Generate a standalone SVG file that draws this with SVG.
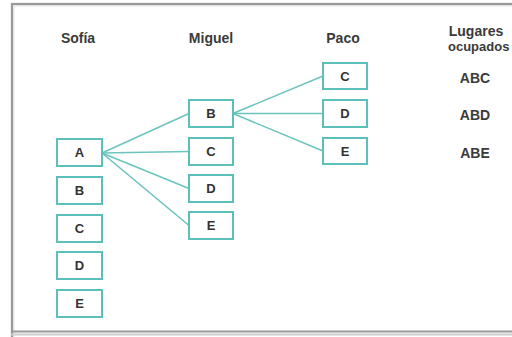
<svg xmlns="http://www.w3.org/2000/svg" width="512" height="337" viewBox="0 0 512 337">
<style>
.box{fill:#fff;stroke:#5dbfb9;stroke-width:2}
.lbl{font-family:"Liberation Sans",Arial,sans-serif;font-weight:bold;font-size:13px;fill:#333;text-anchor:middle}
.hdr{font-family:"Liberation Sans",Arial,sans-serif;font-weight:bold;font-size:14px;fill:#3a3a3a;text-anchor:middle}
.con line{stroke:#6cc4be;stroke-width:1.6}
</style>
<rect width="512" height="337" fill="#fff"/>
<g id="frame">
<path d="M12.5 340 V4.5 H520" fill="none" stroke="#e6e6e6" stroke-width="4"/>
<path d="M12 340 V4 H520" fill="none" stroke="#999" stroke-width="2"/>
<path d="M11 331.5 H520" fill="none" stroke="#999" stroke-width="2"/>
<path d="M11 334.5 H520" fill="none" stroke="#ccc" stroke-width="2"/>
</g>
<g id="headers">
<text class="hdr" x="78" y="43">Sofía</text>
<text class="hdr" x="211" y="43">Miguel</text>
<text class="hdr" x="343" y="43">Paco</text>
<text class="hdr" x="476" y="36">Lugares</text>
<text class="hdr" x="448" y="51" style="text-anchor:start;font-size:13px">ocupados</text>
</g>
<g id="connectors" class="con">
<line x1="102" y1="153" x2="189" y2="113.5"/>
<line x1="102" y1="153" x2="189" y2="151.5"/>
<line x1="102" y1="153" x2="189" y2="188.5"/>
<line x1="102" y1="153" x2="189" y2="225.5"/>
<line x1="233" y1="113.5" x2="323" y2="76"/>
<line x1="233" y1="113.5" x2="323" y2="113.5"/>
<line x1="233" y1="113.5" x2="323" y2="151"/>
</g>
<g id="sofia-A"><rect class="box" x="57" y="139" width="45" height="27"/><text class="lbl" x="79.5" y="157">A</text></g>
<g id="sofia-B"><rect class="box" x="57" y="177" width="45" height="27"/><text class="lbl" x="79.5" y="195">B</text></g>
<g id="sofia-C"><rect class="box" x="57" y="215" width="45" height="27"/><text class="lbl" x="79.5" y="233">C</text></g>
<g id="sofia-D"><rect class="box" x="57" y="252" width="45" height="27"/><text class="lbl" x="79.5" y="270">D</text></g>
<g id="sofia-E"><rect class="box" x="57" y="290" width="45" height="27"/><text class="lbl" x="79.5" y="308">E</text></g>
<g id="miguel-B"><rect class="box" x="189" y="100" width="44" height="27"/><text class="lbl" x="211" y="118">B</text></g>
<g id="miguel-C"><rect class="box" x="189" y="138" width="44" height="27"/><text class="lbl" x="211" y="156">C</text></g>
<g id="miguel-D"><rect class="box" x="189" y="175" width="44" height="27"/><text class="lbl" x="211" y="193">D</text></g>
<g id="miguel-E"><rect class="box" x="189" y="212" width="44" height="27"/><text class="lbl" x="211" y="230">E</text></g>
<g id="paco-C"><rect class="box" x="323" y="63" width="44" height="26"/><text class="lbl" x="345" y="80.5">C</text></g>
<g id="paco-D"><rect class="box" x="323" y="100" width="44" height="27"/><text class="lbl" x="345" y="118">D</text></g>
<g id="paco-E"><rect class="box" x="323" y="138" width="44" height="26"/><text class="lbl" x="345" y="155.5">E</text></g>
<g id="results">
<text class="hdr" x="475" y="83">ABC</text>
<text class="hdr" x="475" y="120">ABD</text>
<text class="hdr" x="475" y="158">ABE</text>
</g>
</svg>
